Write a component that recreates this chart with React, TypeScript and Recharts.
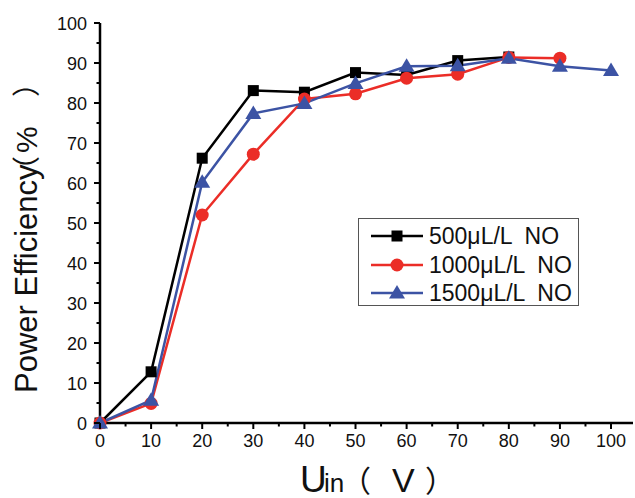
import React from 'react';
import { LineChart, Line, XAxis, YAxis } from 'recharts';

// input voltage (V)
const voltages = [0, 10, 20, 30, 40, 50, 60, 70, 80, 90, 100];
// power efficiency (%)
const eff500 = [0, 12.8, 66.2, 83.1, 82.7, 87.6, 87.0, 90.6, 91.5, null, null];
const eff1000 = [0, 4.9, 52.0, 67.2, 81.0, 82.3, 86.2, 87.2, 91.4, 91.2, null];
const eff1500 = [0, 5.7, 60.2, 77.4, 79.9, 84.9, 89.2, 89.3, 91.2, 89.2, 88.1];

const seriesNames = ['500μL/L  NO', '1000μL/L  NO', '1500μL/L  NO'];
const xTicks = [0, 5, 10, 15, 20, 25, 30, 35, 40, 45, 50, 55, 60, 65, 70, 75, 80, 85, 90, 95, 100];
const yTicks = [0, 5, 10, 15, 20, 25, 30, 35, 40, 45, 50, 55, 60, 65, 70, 75, 80, 85, 90, 95, 100];

const data = voltages.map((v, i) => ({
  v,
  s500: eff500[i],
  s1000: eff1000[i],
  s1500: eff1500[i],
}));

const FONT = '"Liberation Sans", Arial, Helvetica, sans-serif';
const CJK = '"Noto Sans CJK SC", "Noto Sans CJK JP", sans-serif';
const BLACK = '#000000';
const RED = '#eb2d27';
const BLUE = '#3c53a4';

const square = (color: string) => (props: any) => {
  const { cx, cy, key } = props;
  if (cx == null || cy == null || props.value == null) return <g key={key} />;
  return <rect key={key} x={cx - 5.5} y={cy - 5.5} width={11} height={11} fill={color} />;
};
const circle = (color: string) => (props: any) => {
  const { cx, cy, key } = props;
  if (cx == null || cy == null || props.value == null) return <g key={key} />;
  return <circle key={key} cx={cx} cy={cy} r={6.5} fill={color} />;
};
const triangle = (color: string) => (props: any) => {
  const { cx, cy, key } = props;
  if (cx == null || cy == null || props.value == null) return <g key={key} />;
  return <polygon key={key} points={`${cx},${cy - 8} ${cx - 8},${cy + 5.5} ${cx + 8},${cy + 5.5}`} fill={color} />;
};

const XTick = (props: any) => {
  const { x, y, payload } = props;
  const major = payload.value % 10 === 0;
  return (
    <g>
      <line x1={x} y1={y} x2={x} y2={y + (major ? 6 : 3.5)} stroke="#000" strokeWidth={2} />
      {major && (
        <text x={x} y={y + 24} textAnchor="middle" fontSize={18} fontFamily={FONT} fill="#111">
          {payload.value}
        </text>
      )}
    </g>
  );
};

const YTick = (props: any) => {
  const { x, y, payload } = props;
  const major = payload.value % 10 === 0;
  return (
    <g>
      <line x1={x} y1={y} x2={x - (major ? 6 : 3.5)} y2={y} stroke="#000" strokeWidth={2} />
      {major && (
        <text x={x - 13} y={y + 6.5} textAnchor="end" fontSize={18} fontFamily={FONT} fill="#111">
          {payload.value}
        </text>
      )}
    </g>
  );
};

const legendItems = [
  { name: seriesNames[0], color: BLACK, shape: 'square' },
  { name: seriesNames[1], color: RED, shape: 'circle' },
  { name: seriesNames[2], color: BLUE, shape: 'triangle' },
];

const ChartLegend = () => (
  <div
    style={{
      position: 'absolute',
      left: 358,
      top: 218,
      boxSizing: 'border-box',
      width: 221,
      height: 88,
      border: '1px solid #555',
      background: '#fff',
      paddingTop: 3,
    }}
  >
    {legendItems.map((it) => (
      <div key={it.name} style={{ display: 'flex', alignItems: 'center', height: 28.5 }}>
        <svg width={70} height={28} style={{ display: 'block' }}>
          <line x1={12} y1={14} x2={64} y2={14} stroke={it.color} strokeWidth={2.5} />
          {it.shape === 'square' && <rect x={32.5} y={8.5} width={11} height={11} fill={it.color} />}
          {it.shape === 'circle' && <circle cx={38} cy={14} r={6.5} fill={it.color} />}
          {it.shape === 'triangle' && <polygon points="38,6 30,19.5 46,19.5" fill={it.color} />}
        </svg>
        <span style={{ fontFamily: FONT, fontSize: 23, color: '#111', whiteSpace: 'pre', lineHeight: '28px' }}>
          {it.name}
        </span>
      </div>
    ))}
  </div>
);

export default function App() {
  return (
    <div style={{ position: 'absolute', left: 0, top: 0, width: 635, height: 498, background: '#fff' }}>
      <LineChart width={635} height={498} data={data} margin={{ top: 23, right: 2, bottom: 0, left: 0 }}>
        <XAxis
          dataKey="v"
          type="number"
          domain={[0, 104.3]}
          ticks={xTicks}
          interval={0}
          tickSize={0}
          tickMargin={0}
          tickLine={false}
          height={75}
          axisLine={{ stroke: '#000', strokeWidth: 2.5 }}
          tick={<XTick />}
          label={() => (
            <text y={492} fontFamily={FONT} fill="#111">
              <tspan x={300} fontSize={37}>U</tspan>
              <tspan x={324} fontSize={26}>in</tspan>
              <tspan x={341} fontSize={30} fontFamily={CJK}>（</tspan>
              <tspan x={392} fontSize={34}>V</tspan>
              <tspan x={425} fontSize={30} fontFamily={CJK}>）</tspan>
            </text>
          )}
        />
        <XAxis
          xAxisId="top"
          orientation="top"
          type="number"
          domain={[0, 104.3]}
          height={0}
          tick={false}
          tickLine={false}
          axisLine={{ stroke: '#000', strokeWidth: 2.5 }}
        />
        <YAxis
          type="number"
          domain={[0, 100]}
          ticks={yTicks}
          interval={0}
          width={100}
          tickSize={0}
          tickMargin={0}
          tickLine={false}
          axisLine={{ stroke: '#000', strokeWidth: 2.5 }}
          tick={<YTick />}
          label={() => (
            <text y={393} transform="rotate(-90 37 393)" fontFamily={FONT} fill="#111">
              <tspan x={37} fontSize={31}>Power Efficiency</tspan>
              <tspan x={37 + 209} fontSize={28} fontFamily={CJK}>（</tspan>
              <tspan x={37 + 240} fontSize={30}>%</tspan>
              <tspan x={37 + 296} fontSize={28} fontFamily={CJK}>）</tspan>
            </text>
          )}
        />
        <YAxis
          yAxisId="right"
          orientation="right"
          type="number"
          domain={[0, 100]}
          width={0}
          tick={false}
          tickLine={false}
          axisLine={{ stroke: '#999', strokeWidth: 1 }}
        />
        <Line
          type="linear"
          dataKey="s500"
          name={seriesNames[0]}
          stroke={BLACK}
          strokeWidth={2.5}
          dot={square(BLACK)}
          isAnimationActive={false}
        />
        <Line
          type="linear"
          dataKey="s1000"
          name={seriesNames[1]}
          stroke={RED}
          strokeWidth={2.5}
          dot={circle(RED)}
          isAnimationActive={false}
        />
        <Line
          type="linear"
          dataKey="s1500"
          name={seriesNames[2]}
          stroke={BLUE}
          strokeWidth={2.5}
          dot={triangle(BLUE)}
          isAnimationActive={false}
        />
      </LineChart>
      <ChartLegend />
    </div>
  );
}
